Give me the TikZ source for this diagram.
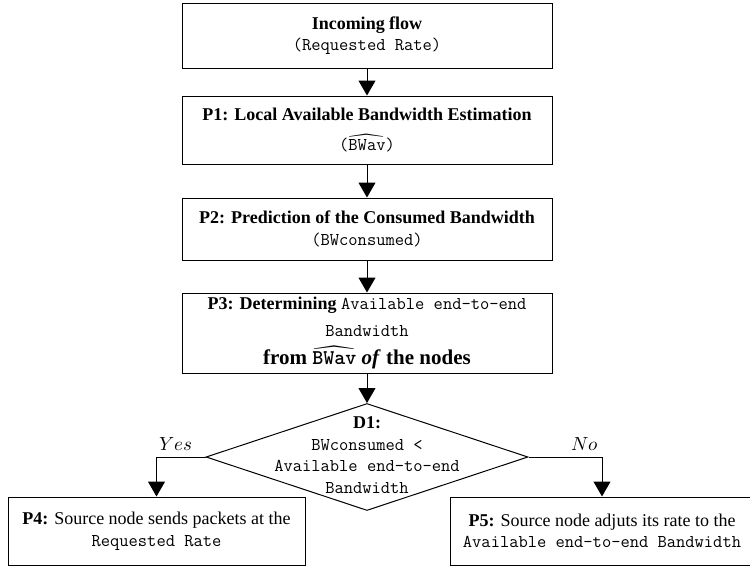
\documentclass[tikz,border=0pt]{standalone}
\usepackage{fontspec}
\usepackage{unicode-math}
\setmainfont{Liberation Serif}
\setmathfont{Latin Modern Math}
\usetikzlibrary{shapes.geometric,arrows.meta}
\begin{document}
\begin{tikzpicture}[x=1pt,y=-1pt,
  box/.style={draw, line width=1pt, align=center, inner sep=0pt, font=\fontsize{18}{21.5}\selectfont},
  arr/.style={line width=1pt, -{Triangle[length=15pt,width=17pt]}},
  lbl/.style={font=\fontsize{19}{21.5}\selectfont, inner sep=0pt},
]
\useasboundingbox (0,0) rectangle (750,568);
\node[box, minimum width=370pt, minimum height=65pt] (b0) at (367,35.5)
  {\textbf{Incoming flow}\\\texttt{(Requested Rate)}};
\node[box, minimum width=370pt, minimum height=68pt] (b1) at (367,130)
  {\textbf{P1: Local Available Bandwidth Estimation}\\[9pt]\texttt{(}$\widehat{\texttt{BWav}}$\texttt{)}};
\node[box, minimum width=370pt, minimum height=62pt] (b2) at (367,229)
  {\textbf{P2: Prediction of the Consumed Bandwidth}\\\texttt{(BWconsumed)}};
\node[box, minimum width=370pt, minimum height=80pt] (b3) at (367,333)
  {\textbf{P3: Determining} \texttt{Available end-to-end}\\[5pt]\texttt{Bandwidth}\\[7pt]
   {\fontsize{21}{25}\selectfont\textbf{from $\widehat{\texttt{BWav}}$ \textit{of} the nodes}}};
\node[diamond, draw, line width=1pt, minimum width=322pt, minimum height=107pt, inner sep=0pt] (d1) at (367,457) {};
\node[lbl, align=center, font=\fontsize{18}{21.5}\selectfont] (d1t) at (367,455)
  {\textbf{D1:}\\\texttt{BWconsumed <}\\\texttt{Available end-to-end}\\\texttt{Bandwidth}};
\node[box, minimum width=297pt, minimum height=68pt] (p4) at (156.5,531)
  {\textbf{P4:} Source node sends packets at the\\\texttt{Requested Rate}};
\node[box, minimum width=304pt, minimum height=68pt] (p5) at (602,531)
  {\textbf{P5:} Source node adjuts its rate to the\\\texttt{Available end-to-end Bandwidth}};
\node[lbl] (yes) at (176,444) {$Yes$};
\node[lbl] (no) at (585,444) {$No$};
\draw[arr] (b0) -- (b1);
\draw[arr] (b1) -- (b2);
\draw[arr] (b2) -- (b3);
\draw[arr] (b3) -- (d1);
\draw[arr] (d1.west) -| (p4.north);
\draw[arr] (d1.east) -| (p5.north);
\end{tikzpicture}
\end{document}
